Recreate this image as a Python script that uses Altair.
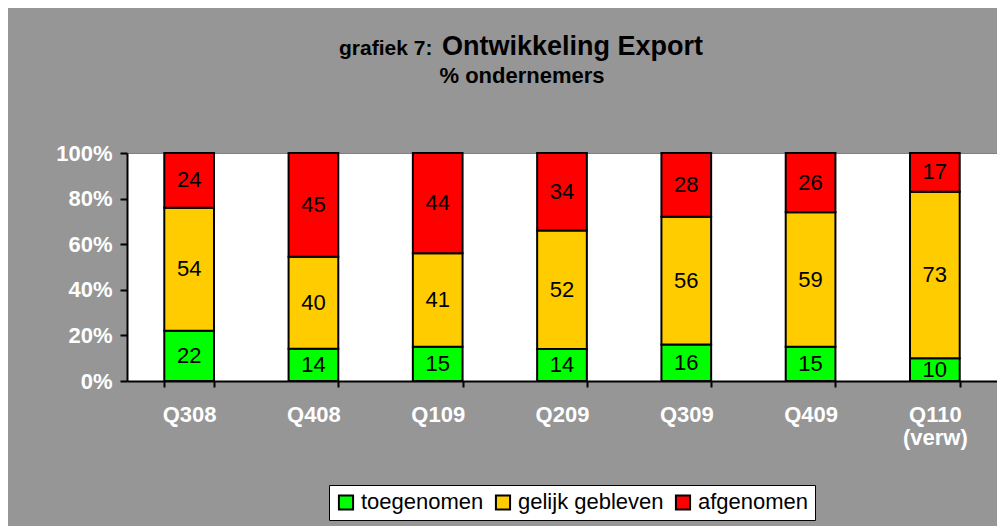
import altair as alt
import pandas as pd

quarters = ["Q308", "Q408", "Q109", "Q209", "Q309", "Q409", "Q110|(verw)"]
series = ["toegenomen", "gelijk gebleven", "afgenomen"]
colors = ["#00FF00", "#FFCC00", "#FF0000"]
toegenomen = [22, 14, 15, 14, 16, 15, 10]
gelijk = [54, 40, 41, 52, 56, 59, 73]
afgenomen = [24, 45, 44, 34, 28, 26, 17]
title_small = ["grafiek 7:"]
title_big = ["Ontwikkeling Export"]
subtitle = ["% ondernemers"]
y_ticks = [0, 0.2, 0.4, 0.6, 0.8, 1.0]

rows = []
for vals, name, o in [(toegenomen, series[0], 0), (gelijk, series[1], 1), (afgenomen, series[2], 2)]:
    for q, v in zip(quarters, vals):
        rows.append({"quarter": q, "series": name, "value": v, "order": o})
df = pd.DataFrame(rows)

FONT = "Liberation Sans"

xenc = alt.X(
    "quarter:N",
    sort=quarters,
    title=None,
    scale=alt.Scale(paddingInner=0.6, paddingOuter=0.3),
    axis=alt.Axis(
        labelExpr="split(datum.label, '|')",
        labelAngle=0,
        labelFont=FONT,
        labelFontSize=22,
        labelFontWeight="bold",
        labelColor="white",
        labelPadding=17,
        labelLineHeight=23,
        tickBand="extent",
        tickSize=6,
        tickColor="black",
        tickWidth=2,
        domainColor="black",
        domainWidth=2,
        grid=False,
    ),
)

yaxis = alt.Axis(
    values=y_ticks,
    format=".0%",
    labelFont=FONT,
    labelFontSize=22,
    labelFontWeight="bold",
    labelColor="white",
    labelPadding=8,
    tickSize=7,
    tickColor="black",
    tickWidth=2,
    domainColor="black",
    domainWidth=2,
    grid=False,
)

base = alt.Chart(df)

bars = base.mark_bar(stroke="black", strokeWidth=2).encode(
    x=xenc,
    y=alt.Y("value:Q", stack="normalize", title=None,
            scale=alt.Scale(domain=[0, 1]), axis=yaxis),
    color=alt.Color(
        "series:N",
        scale=alt.Scale(domain=series, range=colors),
        sort=series,
        legend=alt.Legend(
            title=None,
            orient="none",
            legendX=202,
            legendY=332,
            direction="horizontal",
            fillColor="white",
            strokeColor="black",
            padding=6,
            symbolType="square",
            symbolSize=200,
            symbolStrokeColor="black",
            symbolStrokeWidth=2,
            symbolOpacity=1,
            labelFont=FONT,
            labelFontSize=22,
            labelColor="black",
            labelOffset=4,
            labelLimit=400,
            columnPadding=7,
        ),
    ),
    order=alt.Order("order:Q"),
)

labels = base.transform_stack(
    stack="value",
    groupby=["quarter"],
    as_=["v0", "v1"],
    offset="normalize",
    sort=[alt.SortField("order", order="ascending")],
).transform_calculate(
    mid="(datum.v0 + datum.v1) / 2"
).mark_text(font=FONT, fontSize=22, color="black", baseline="middle").encode(
    x=alt.X("quarter:N", sort=quarters, title=None),
    y=alt.Y("mid:Q", title=None),
    text=alt.Text("value:Q"),
)

t1 = alt.Chart(pd.DataFrame({"t": title_small})).mark_text(
    font=FONT, fontSize=21, fontWeight="bold", color="black", align="left", baseline="alphabetic"
).encode(x=alt.value(212), y=alt.value(-98), text="t:N")

t2 = alt.Chart(pd.DataFrame({"t": title_big})).mark_text(
    font=FONT, fontSize=27, fontWeight="bold", color="black", align="left", baseline="alphabetic"
).encode(x=alt.value(315), y=alt.value(-98), text="t:N")

t3 = alt.Chart(pd.DataFrame({"t": subtitle})).mark_text(
    font=FONT, fontSize=22, fontWeight="bold", color="black", align="center", baseline="alphabetic"
).encode(x=alt.value(395), y=alt.value(-70), text="t:N")

chart = alt.layer(bars, labels, t1, t2, t3).properties(
    width=870,
    height=228,
    background="#969696",
    padding={"left": 119, "top": 145, "right": 0, "bottom": 145},
    autosize=alt.AutoSizeParams(type="none"),
).configure_view(
    fill="white",
    stroke="#808080",
    strokeWidth=1,
)

chart.save("out.html", embed_options={"renderer": "svg", "actions": False})
